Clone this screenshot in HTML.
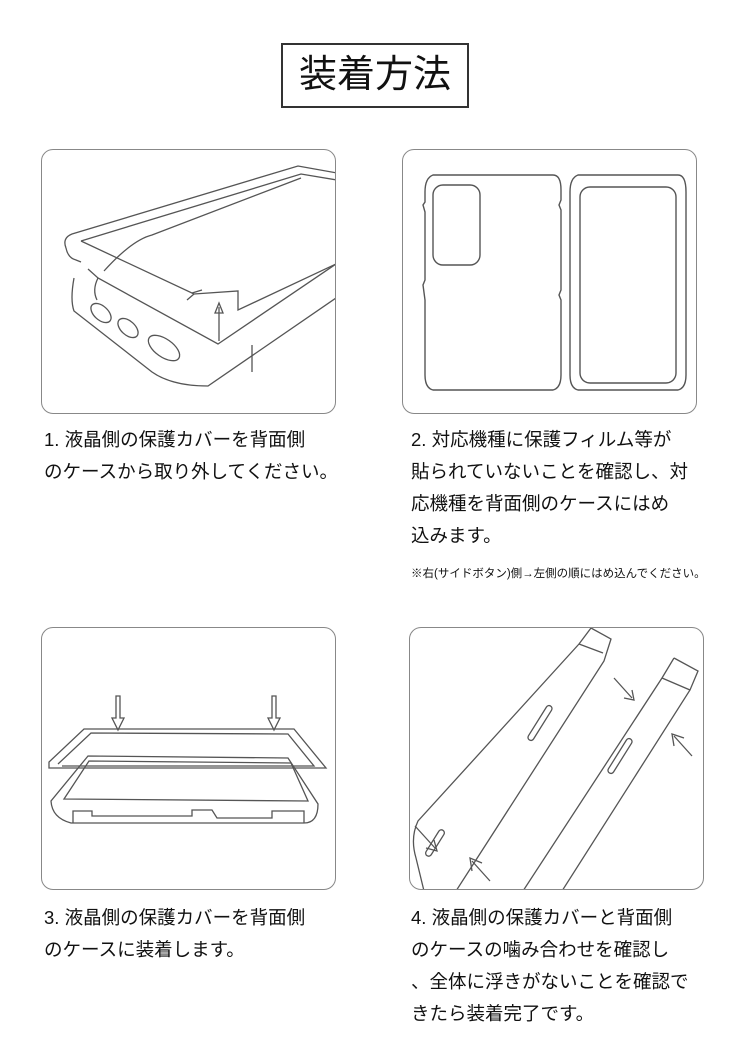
<!DOCTYPE html>
<html><head><meta charset="utf-8"><style>
body{margin:0;background:#fff;width:750px;height:1050px;position:relative;overflow:hidden;font-family:"Liberation Sans","Noto Sans CJK JP",sans-serif;color:#111}
.t{position:absolute;left:281px;top:43px;width:188px;height:65px;border:2px solid #333;box-sizing:border-box;text-align:center;font-size:38px;line-height:61px}
.p{position:absolute;border:1.5px solid #888;border-radius:12px;box-sizing:border-box;overflow:hidden}
.c{position:absolute;font-size:18.5px;line-height:32px;white-space:nowrap}
svg{position:absolute;left:0;top:0}
</style></head><body>
<div class="t">装着方法</div>

<div class="p" style="left:41px;top:149px;width:295px;height:265px">
<svg width="295" height="265" fill="none" stroke="#555" stroke-width="1.3">
<path d="M24,98 Q20,88 30,84 L256,16 L295,23"/>
<path d="M24,98 Q26,108 34,110 L39,112"/>
<path d="M39,91 L259,24 L295,30"/>
<path d="M39,91 L152,144 L196,141 L196,160 L294,114"/>
<path d="M152,144 L145,150 M150,143 L160,140"/>
<path d="M62,121 Q90,90 110,85 L259,28"/>
<path d="M32,128 Q28,150 32,161 L110,222 Q130,236 166,236 L294,148"/>
<path d="M46,119 L56,128 L176,194 L294,114"/>
<path d="M56,128 Q50,140 55,150"/>
<path d="M210,195 L210,222"/>
<ellipse cx="59" cy="163" rx="7" ry="12" transform="rotate(-48 59 163)"/>
<ellipse cx="86" cy="178" rx="7" ry="12" transform="rotate(-48 86 178)"/>
<ellipse cx="122" cy="198" rx="9" ry="18" transform="rotate(-55 122 198)"/>
<path d="M177,157 L177,191 M173,163 L177,153 L181,163 Z"/>
</svg></div>

<div class="p" style="left:402px;top:149px;width:295px;height:265px">
<svg width="295" height="265" fill="none" stroke="#555" stroke-width="1.4">
<path d="M30,25 Q22,28 22,42 L22,52 L20,55 L22,62 L22,130 L20,135 L22,150 L22,225 Q22,238 30,240 L150,240 Q158,238 158,225 L158,150 L156,145 L158,140 L158,60 L156,55 L158,50 L158,40 Q158,25 150,25 Z"/>
<rect x="30" y="35" width="47" height="80" rx="10"/>
<path d="M175,25 Q167,28 167,42 L167,225 Q167,238 175,240 L275,240 Q283,238 283,225 L283,42 Q283,25 275,25 Z"/>
<rect x="177" y="37" width="96" height="196" rx="10"/>
</svg></div>

<div class="c" style="left:44px;top:424px">1. 液晶側の保護カバーを背面側<br>のケースから取り外してください。</div>
<div class="c" style="left:411px;top:424px">2. 対応機種に保護フィルム等が<br>貼られていないことを確認し、対<br>応機種を背面側のケースにはめ<br>込みます。</div>
<div class="c" style="left:411px;top:565px;font-size:11.5px;line-height:18px">※右(サイドボタン)側→左側の順にはめ込んでください。</div>

<div class="p" style="left:41px;top:627px;width:295px;height:263px">
<svg width="295" height="263" fill="none" stroke="#555" stroke-width="1.3">
<path d="M74,68 L74,90 L70,90 L76,102 L82,90 L78,90 L78,68 Z"/>
<path d="M230,68 L230,90 L226,90 L232,102 L238,90 L234,90 L234,68 Z"/>
<path d="M7,140 L7,134 L42,101 L252,101 L284,140 Z"/>
<path d="M16,136 L49,105 L246,106 L272,138 L20,138"/>
<path d="M29,195 Q10,190 9,173 L46,128 L246,130 L276,176 Q276,195 262,195 Z"/>
<path d="M22,171 L47,133 L249,135 L266,173 Z"/>
<path d="M31,195 L31,183 L50,183 L50,188 L150,188 L150,182 L170,182 L175,190 L230,190 L230,183 L262,183 L262,195"/>
</svg></div>

<div class="p" style="left:409px;top:627px;width:295px;height:263px">
<svg width="295" height="263" fill="none" stroke="#555" stroke-width="1.3">
<path d="M181,0 L201,11 L194,33 L46,263"/>
<path d="M181,0 L169,16 L8,193 Q0,210 6,230 L14,263"/>
<path d="M169,16 L193,25"/>
<path d="M264,30 L288,43 L280,62 L152,263"/>
<path d="M264,30 L252,50 L113,263"/>
<path d="M252,50 L280,62"/>
<rect x="127" y="75" width="6" height="40" rx="3" transform="rotate(32 130 95)"/>
<rect x="207" y="108" width="6" height="40" rx="3" transform="rotate(32 210 128)"/>
<rect x="22" y="200" width="6" height="30" rx="3" transform="rotate(32 25 215)"/>
<path d="M204,50 L222,70 M214,70 L224,72 L222,62"/>
<path d="M282,128 L264,108 M264,118 L262,106 L274,110"/>
<path d="M5,198 L25,220 M16,220 L27,223 L24,212"/>
<path d="M80,253 L62,233 M62,243 L60,230 L72,235"/>
</svg></div>

<div class="c" style="left:44px;top:902px">3. 液晶側の保護カバーを背面側<br>のケースに装着します。</div>
<div class="c" style="left:411px;top:902px">4. 液晶側の保護カバーと背面側<br>のケースの噛み合わせを確認し<br>、全体に浮きがないことを確認で<br>きたら装着完了です。</div>
</body></html>
